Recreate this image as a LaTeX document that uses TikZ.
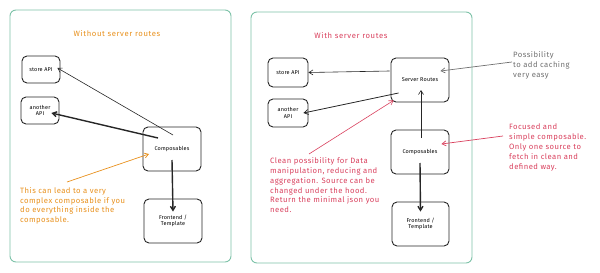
\documentclass[tikz,border=0pt]{standalone}
\usepackage{fontspec}
\setmainfont{Fira Sans}
\usetikzlibrary{arrows.meta,calc}
\definecolor{framec}{HTML}{7DC2A8}
\definecolor{orng}{HTML}{E8901C}
\definecolor{redc}{HTML}{D9415E}
\definecolor{grayc}{HTML}{707070}
\tikzset{
  frame/.style={draw=framec, line width=0.9pt, rounded corners=6pt},
  box/.style={draw=black!85, line width=0.9pt, rounded corners=5pt, align=center, font=\fontsize{5.5}{6.5}\selectfont\addfontfeature{LetterSpace=3}, inner sep=1pt},
  note/.style={anchor=north west, align=left, inner sep=0pt, font=\fontsize{7.7}{9.8}\selectfont\addfontfeature{LetterSpace=6}},
  ttl/.style={font=\fontsize{7.7}{9}\selectfont\addfontfeature{LetterSpace=8}, inner sep=0pt},
  arr/.style={-{Straight Barb[length=4pt,width=5pt]}, line width=0.8pt, black!85},
  thin/.style={arr, line width=0.6pt},
  thick/.style={arr, line width=1.4pt},
}
\begin{document}
\begin{tikzpicture}[x=1pt,y=-1pt]
\useasboundingbox (0,0) rectangle (600,273);
% frames
\draw[frame] (10,10) rectangle (231,262);
\draw[frame] (251,12) rectangle (472,263);
% titles
\node[ttl, text=orng] (lt) at (117,34) {Without server routes};
\node[ttl, text=redc] (rt) at (351,36) {With server routes};
% left boxes
\node[box, minimum width=38pt, minimum height=27pt] (ls) at (41,69.5) {store API};
\node[box, minimum width=38pt, minimum height=27pt] (la) at (40,110.5) {another\\API};
\node[box, minimum width=58pt, minimum height=44pt] (lc) at (172,149) {Composables};
\node[box, minimum width=58pt, minimum height=44pt] (lf) at (173,221) {Frontend /\\Template};
% right boxes
\node[box, minimum width=40pt, minimum height=29pt] (rs) at (288,72.5) {store API};
\node[box, minimum width=40pt, minimum height=28pt] (ra) at (288,113) {another\\API};
\node[box, minimum width=58pt, minimum height=44pt] (rr) at (420,80) {Server Routes};
\node[box, minimum width=58pt, minimum height=44pt] (rc) at (420,152) {Composables};
\node[box, minimum width=57pt, minimum height=44pt] (rf) at (420.5,224) {Frontend /\\Template};
% notes
\node[note, text=orng] (lnote) at (20,187) {This can lead to a very\\complex composable if you\\do everything inside the\\composable.};
\node[note, text=redc] (rnote) at (270,157.5) {Clean possibility for Data\\manipulation, reducing and\\aggregation. Source can be\\changed under the hood.\\Return the minimal json you\\need.};
\node[note, text=grayc] (gnote) at (513,51.5) {Possibility\\to add caching\\very easy};
\node[note, text=redc] (fnote) at (509,124) {Focused and\\simple composable.\\Only one source to\\fetch in clean and\\defined way.};
% left arrows
\draw[thin] ($(lc.center)+(1,-14)$) -- ($(ls.east)+(-3,-1.5)$);
\draw[thick] ($(lc.center)+(-14,-11)$) -- ($(la.east)+(-8,2.5)$);
\draw[thick] ($(lc.center)+(0,11)$) -- ($(lf.north)+(0,13)$);
\draw[arr, orng, line width=0.7pt] ($(lnote.north west)+(47,-5)$) -- ($(lc.center)+(-23,5)$);
% right arrows
\draw[thin] ($(rr.west)+(-1,-9)$) -- (rs.east);
\draw[arr] ($(rr.west)+(8,13)$) -- ($(ra.east)+(-5,0)$);
\draw[thin] ($(rc.center)+(1,-14)$) -- ($(rr.center)+(1,10)$);
\draw[thick] ($(rc.center)+(0,11)$) -- ($(rf.north)+(0,10)$);
\draw[arr, redc, line width=0.6pt] ($(rnote.north west)+(39,-3.5)$) -- ($(rr.south west)+(3,-2)$);
\draw[arr, grayc, line width=0.7pt] ($(gnote.north west)+(-1,10.5)$) -- ($(rr.east)+(-9,-9)$);
\draw[arr, redc, line width=0.7pt] ($(fnote.north west)+(-6,12)$) -- ($(rc.east)+(-8,-8)$);
\end{tikzpicture}
\end{document}
